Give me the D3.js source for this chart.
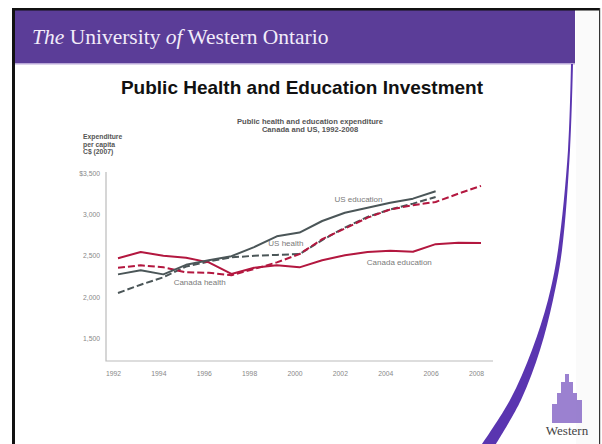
<!DOCTYPE html>
<html><head><meta charset="utf-8">
<script src="https://cdn.jsdelivr.net/npm/d3@7"></script>
<style>body{margin:0;background:#fff}svg{display:block}</style>
</head><body>
<script>
const years = [1992,1993,1994,1995,1996,1997,1998,1999,2000,2001,2002,2003,2004,2005,2006,2007,2008];
const canadaEducation = [2470,2545,2500,2475,2420,2280,2355,2385,2360,2445,2505,2545,2560,2548,2640,2657,2655];
const canadaHealth    = [2355,2385,2360,2300,2295,2265,2340,2420,2520,2700,2830,2960,3060,3110,3150,3250,3345];
const usEducation     = [2275,2325,2275,2390,2445,2495,2605,2735,2780,2920,3020,3080,3140,3190,3280];
const usHealth        = [2050,2150,2240,2370,2430,2480,2500,2510,2520,2690,2840,2970,3060,3130,3210];
const yTicks = [1500,2000,2500,3000,3500];
const xTicks = [1992,1994,1996,1998,2000,2002,2004,2006,2008];
const seriesNames = ["Canada education","Canada health","US education","US health"];

const W=602,H=444;
const F="Liberation Sans, Arial, sans-serif";
const svg=d3.select("body").append("svg").attr("width",W).attr("height",H);

// slide frame
svg.append("rect").attr("x",0).attr("y",0).attr("width",W).attr("height",H).attr("fill","#fff");
svg.append("rect").attr("x",15).attr("y",10).attr("width",560).attr("height",53).attr("fill","#5b3d98");
svg.append("rect").attr("x",15).attr("y",63).attr("width",560).attr("height",1.5).attr("fill","#b9a8d8");
svg.append("rect").attr("x",576).attr("y",10).attr("width",23).attr("height",434).attr("fill","#fafafa");
svg.append("rect").attr("x",12).attr("y",8).attr("width",588).attr("height",2.5).attr("fill","#111");
svg.append("rect").attr("x",12).attr("y",8).attr("width",3).attr("height",436).attr("fill","#111");
svg.append("rect").attr("x",599).attr("y",8).attr("width",1.2).attr("height",436).attr("fill","#333");

// swoosh
const outer=[[573,64],[570,150],[562,250],[553,300],[540,350],[521,400],[496,444]];
const inner=[[571,64],[568,150],[558,250],[548,300],[532,350],[510,400],[482,444]];
const cl=d3.line().curve(d3.curveCatmullRom);
svg.append("path").attr("d",cl(outer)+"L"+cl(inner.slice().reverse()).slice(1)+"Z").attr("fill","#5a35b0");

// header text
const ht=svg.append("text").attr("x",32).attr("y",44).attr("font-family","Liberation Serif, Times New Roman, serif")
  .attr("font-size",21.5).attr("fill","#f2ecfa");
ht.append("tspan").attr("font-style","italic").text("The");
ht.append("tspan").text(" University ");
ht.append("tspan").attr("font-style","italic").text("of");
ht.append("tspan").text(" Western Ontario");

svg.append("text").attr("x",302).attr("y",94).attr("text-anchor","middle")
  .attr("font-family",F).attr("font-weight","bold").attr("font-size",19)
  .attr("fill","#111").text("Public Health and Education Investment");

// chart
const x=d3.scaleLinear().domain([1992,2008]).range([118,481]);
const y=d3.scaleLinear().domain([1500,3500]).range([338.5,173]);
const red="#b3173f", grey="#4b5658";

svg.append("text").attr("x",310).attr("y",124).attr("text-anchor","middle").attr("font-family",F)
  .attr("font-weight","bold").attr("font-size",7.6).attr("fill","#555").text("Public health and education expenditure");
svg.append("text").attr("x",310).attr("y",131.5).attr("text-anchor","middle").attr("font-family",F)
  .attr("font-weight","bold").attr("font-size",7.6).attr("fill","#555").text("Canada and US, 1992-2008");
["Expenditure","per capita","C$ (2007)"].forEach((t,i)=>{
  svg.append("text").attr("x",83).attr("y",139+i*7.5).attr("font-family",F)
   .attr("font-weight","bold").attr("font-size",6.8).attr("fill","#555").text(t);
});

// axes
svg.append("path").attr("d","M106,172V361H493").attr("fill","none").attr("stroke","#bbb").attr("stroke-width",1.2);
const yAxis=d3.axisLeft(y).tickValues(yTicks).tickSize(0).tickFormat(d=>(d===3500?"$":"")+d3.format(",")(d));
const gy=svg.append("g").attr("transform","translate(100,0)").call(yAxis);
gy.select(".domain").remove();
gy.selectAll("text").attr("font-family",F).attr("font-size",6.8).attr("fill","#888").attr("x",0);
const xAxis=d3.axisBottom(x).tickValues(xTicks).tickSize(0).tickFormat(d3.format("d"));
const gx=svg.append("g").attr("transform","translate(-5,368)").call(xAxis);
gx.select(".domain").remove();
gx.selectAll("text").attr("font-family",F).attr("font-size",6.8).attr("fill","#888");

const line=d3.line().x((d,i)=>x(years[i])).y(d=>y(d));
const series=[
  {name:seriesNames[3],v:usHealth,c:grey,dash:"7,3"},
  {name:seriesNames[1],v:canadaHealth,c:red,dash:"7,3"},
  {name:seriesNames[0],v:canadaEducation,c:red,dash:null},
  {name:seriesNames[2],v:usEducation,c:grey,dash:null}
];
series.forEach(s=>{
  svg.append("path").datum(s.v).attr("d",line).attr("fill","none").attr("stroke",s.c)
   .attr("stroke-width",2).attr("stroke-dasharray",s.dash).attr("stroke-linejoin","round");
});

const labels=[[seriesNames[2],2002.6,3150],[seriesNames[3],1999.4,2615],[seriesNames[0],2004.4,2390],[seriesNames[1],1995.6,2150]];
labels.forEach(l=>{
  svg.append("text").attr("x",x(l[1])).attr("y",y(l[2])).attr("text-anchor","middle")
   .attr("font-family",F).attr("font-size",8).attr("fill","#7a7a7a").text(l[0]);
});

// Western logo
const lg=svg.append("g").attr("fill","#8a6cc8").attr("opacity",0.85);
lg.append("rect").attr("x",557).attr("y",393).attr("width",20).attr("height",30);
lg.append("rect").attr("x",561).attr("y",382).attr("width",12).attr("height",12);
lg.append("rect").attr("x",565).attr("y",374).attr("width",4).attr("height",9);
lg.append("rect").attr("x",552).attr("y",404).attr("width",6).attr("height",19);
lg.append("rect").attr("x",576).attr("y",400).attr("width",6).attr("height",23);
svg.append("text").attr("x",567).attr("y",435).attr("text-anchor","middle").attr("font-family","Liberation Serif, Times New Roman, serif")
  .attr("font-size",13).attr("fill","#444").text("Western");
</script>
</body></html>
